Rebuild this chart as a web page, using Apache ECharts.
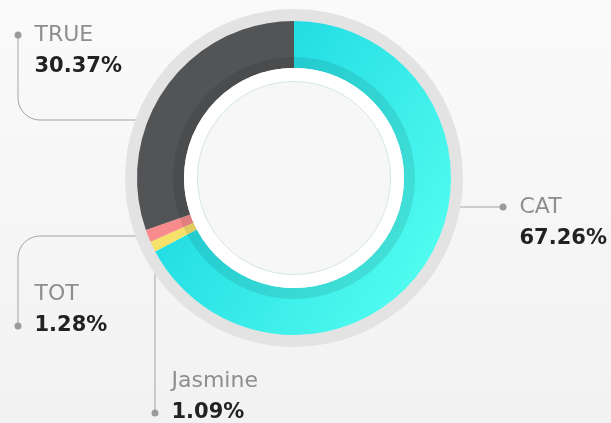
<!DOCTYPE html>
<html>
<head>
<meta charset="utf-8">
<script src="https://cdn.jsdelivr.net/npm/echarts@6/dist/echarts.min.js"></script>
<style>
html,body{margin:0;padding:0;}
#chart{width:611px;height:423px;background:linear-gradient(#fafafa,#f2f2f2);}
</style>
</head>
<body>
<div id="chart"></div>
<script>
// ---- data ----
const categories = ['CAT', 'Jasmine', 'TOT', 'TRUE'];
const shares = [67.26, 1.09, 1.28, 30.37];
const valueLabels = ['67.26%', '1.09%', '1.28%', '30.37%'];

// ---- styles / geometry ----
const sliceColors = [null, '#f6e16b', '#f88b8b', '#535456'];
const CX = 294, CY = 178;
const R_OUT = 157, R_IN = 110, R_SHADOW = 121, R_WHITE_IN = 96.5, R_GRAY = 169;
const LINE_H = 32;
// label guide geometry per category
const guides = {
  CAT:     { kind: 'h', lineY: 207, dotX: 503, dotY: 207, dotLine: 0 },
  Jasmine: { kind: 'v', lineX: 155, dotX: 155, dotY: 413, dotLine: 1 },
  TOT:     { kind: 'elbow', lineY: 236, dotX: 18, dotY: 326, dotLine: 1 },
  TRUE:    { kind: 'elbow', lineY: 120, dotX: 18, dotY: 35, dotLine: 0 }
};

const chart = echarts.init(document.getElementById('chart'));

const catGradient = new echarts.graphic.LinearGradient(0, 0.2, 1, 0.8, [
  { offset: 0, color: '#13d2df' },
  { offset: 1, color: '#55fef0' }
]);

function guidePoints(g) {
  const Rs = 150;
  if (g.kind === 'h') {
    const dy = g.lineY - CY;
    const x0 = CX + Math.sqrt(Rs * Rs - dy * dy);
    return [[x0, g.lineY], [g.dotX, g.dotY]];
  }
  if (g.kind === 'v') {
    const dx = g.lineX - CX;
    const y0 = CY + Math.sqrt(Rs * Rs - dx * dx);
    return [[g.lineX, y0], [g.dotX, g.dotY]];
  }
  const dy = g.lineY - CY;
  const x0 = CX - Math.sqrt(Rs * Rs - dy * dy);
  const r = 22;
  const dir = g.dotY < g.lineY ? -1 : 1;
  const pts = [[x0, g.lineY], [g.dotX + r, g.lineY]];
  const ccx = g.dotX + r, ccy = g.lineY + dir * r;
  for (let i = 1; i <= 10; i++) {
    const a = (Math.PI / 2) * i / 10;
    pts.push([ccx - r * Math.sin(a), ccy - dir * r * Math.cos(a)]);
  }
  pts.push([g.dotX, g.dotY]);
  return pts;
}

const labelData = categories.map((c, i) => ({
  name: c,
  value: shares[i],
  label: {
    formatter: guides[c].dotLine === 0
      ? '{dot|}{gap|}{n|' + c + '}\n{sp|}{v|' + valueLabels[i] + '}'
      : '{sp|}{n|' + c + '}\n{dot|}{gap|}{v|' + valueLabels[i] + '}'
  }
}));

const option = {
  animation: false,
  series: [
    {
      type: 'pie',
      z: 1,
      silent: true,
      center: [CX, CY],
      radius: [140, R_GRAY],
      startAngle: 90,
      clockwise: true,
      avoidLabelOverlap: false,
      itemStyle: { color: '#e3e3e3', borderWidth: 0 },
      label: {
        show: true,
        position: 'outside',
        lineHeight: LINE_H,
        rich: {
          dot: { width: 7, height: 7, borderRadius: 4, backgroundColor: '#9b9b9b', lineHeight: LINE_H },
          gap: { width: 13, lineHeight: LINE_H },
          sp: { width: 20, lineHeight: LINE_H },
          n: { fontFamily: 'DejaVu Sans', fontSize: 22, color: '#8e8e8e', lineHeight: LINE_H },
          v: { fontFamily: 'DejaVu Sans', fontSize: 21, fontWeight: 'bold', color: '#222222', lineHeight: LINE_H }
        }
      },
      labelLine: { show: true, smooth: false, lineStyle: { color: '#a3a3a3', width: 1 } },
      labelLayout: function (params) {
        const g = guides[categories[params.dataIndex]];
        return {
          x: g.dotX - 3.5,
          y: g.dotY - LINE_H * (g.dotLine + 0.5),
          align: 'left',
          verticalAlign: 'top',
          labelLinePoints: guidePoints(g)
        };
      },
      data: labelData
    },
    {
      type: 'pie',
      z: 2,
      silent: true,
      center: [CX, CY],
      radius: [R_IN, R_OUT],
      startAngle: 90,
      clockwise: true,
      label: { show: false },
      labelLine: { show: false },
      data: categories.map((c, i) => ({
        name: c,
        value: shares[i],
        itemStyle: { color: i === 0 ? catGradient : sliceColors[i], borderWidth: 0 }
      }))
    },
    {
      type: 'pie',
      z: 3,
      silent: true,
      center: [CX, CY],
      radius: [R_IN, R_SHADOW],
      label: { show: false },
      labelLine: { show: false },
      itemStyle: { color: 'rgba(0,0,0,0.09)' },
      data: [1]
    },
    {
      type: 'pie',
      z: 4,
      silent: true,
      center: [CX, CY],
      radius: [0, R_IN],
      label: { show: false },
      labelLine: { show: false },
      itemStyle: { color: '#ffffff' },
      data: [1]
    },
    {
      type: 'pie',
      z: 5,
      silent: true,
      center: [CX, CY],
      radius: [0, R_WHITE_IN],
      label: { show: false },
      labelLine: { show: false },
      itemStyle: { color: '#f7f7f7', borderColor: '#d6e6e6', borderWidth: 1 },
      data: [1]
    }
  ]
};
chart.setOption(option);
</script>
</body>
</html>
